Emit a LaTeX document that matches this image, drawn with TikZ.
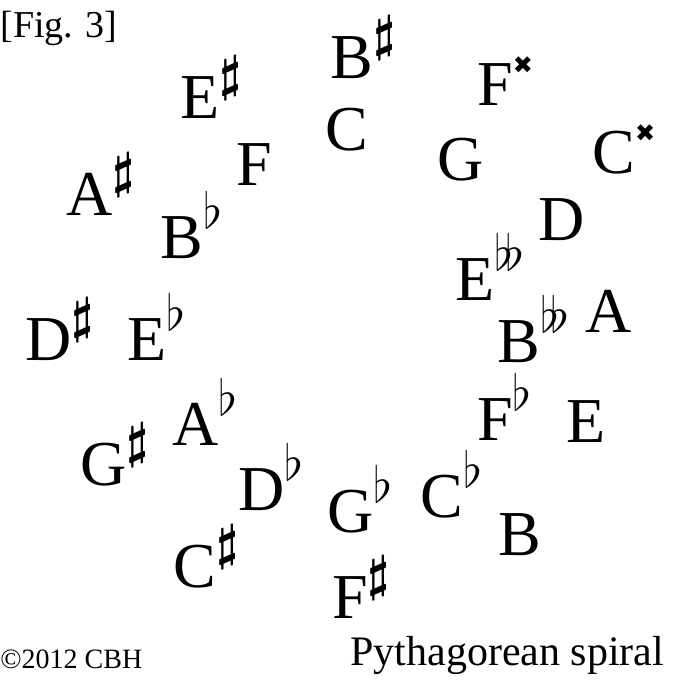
\documentclass[tikz,border=0pt]{standalone}
\usepackage{fontspec}
\setmainfont{Liberation Serif}
\newfontfamily\symfont{DejaVu Sans}
\usetikzlibrary{positioning}
\newcommand{\accsize}{\fontsize{25}{25}\selectfont}
\newcommand{\shp}{\raisebox{14pt}{\accsize\boldmath$\sharp$}}
\newcommand{\flt}{\raisebox{15pt}{\accsize$\flat$}}
\newcommand{\dflt}{\raisebox{15pt}{\accsize$\flat\!\flat$}}
\newcommand{\dshp}{\raisebox{16pt}{\fontsize{12}{12}\symfont ✖}}

\begin{document}
\begin{tikzpicture}[x=0.5pt,y=-0.5pt,
                    pitch/.style={anchor=base west,inner sep=0pt,
                                  font=\fontsize{32}{36}\selectfont},
                    caption/.style={anchor=base west,inner sep=0pt}]
\useasboundingbox (0,0) rectangle (674,686);
% outer ring
\node[pitch] (bs)  at (330,78)  {B\shp};
\node[pitch] (es)  at (180,118) {E\shp};
\node[pitch] (fx)  at (477,105) {F\dshp};
\node[pitch] (cx)  at (592,173) {C\dshp};
\node[pitch] (as)  at (66,215)  {A\shp};
\node[pitch] (ds)  at (25,360)  {D\shp};
\node[pitch] (gs)  at (80,485)  {G\shp};
\node[pitch] (cs)  at (173,587) {C\shp};
\node[pitch] (fs)  at (332,618) {F\shp};
% naturals
\node[pitch] (c)   at (325,150) {C};
\node[pitch] (f)   at (236,185) {F};
\node[pitch] (g)   at (437,180) {G};
\node[pitch] (d)   at (538,240) {D};
\node[pitch] (a)   at (585,332) {A};
\node[pitch] (e)   at (566,442) {E};
\node[pitch] (b)   at (498,555) {B};
% flats
\node[pitch] (bf)  at (160,258) {B\flt};
\node[pitch] (ef)  at (127,360) {E\flt};
\node[pitch] (af)  at (172,445) {A\flt};
\node[pitch] (df)  at (238,510) {D\flt};
\node[pitch] (gf)  at (327,532) {G\flt};
\node[pitch] (cf)  at (420,517) {C\flt};
\node[pitch] (ff)  at (477,440) {F\flt};
% double flats
\node[pitch] (bff) at (497,362) {B\dflt};
\node[pitch] (eff) at (455,300) {E\dflt};
% captions
\node[caption,font=\fontsize{19}{20}\selectfont] (fig) at (0,37) {[Fig. 3]};
\node[caption,font=\fontsize{14}{16}\selectfont] (copy) at (0,668) {©2012 CBH};
\node[caption,font=\fontsize{21}{22}\selectfont] (title) at (350,665) {Pythagorean spiral};
\end{tikzpicture}
\end{document}
